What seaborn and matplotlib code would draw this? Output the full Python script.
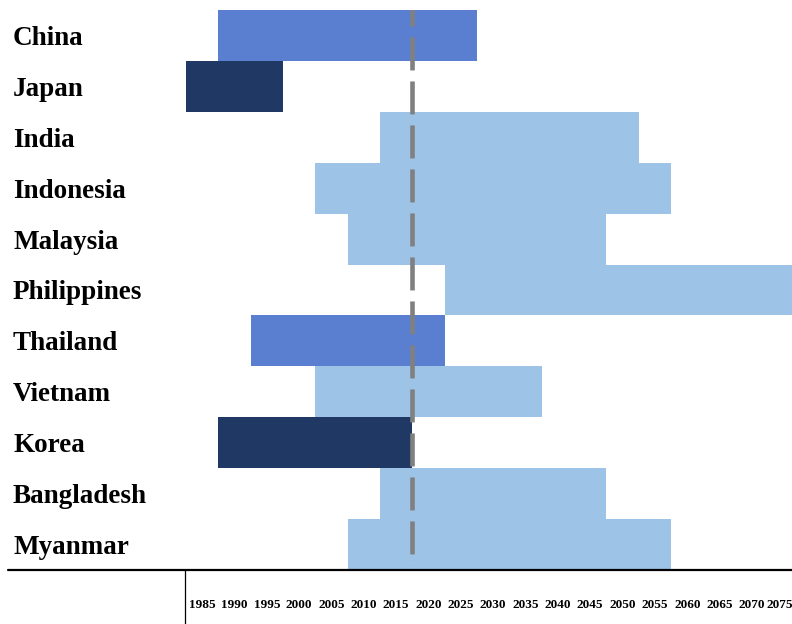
import matplotlib
matplotlib.use("Agg")
import matplotlib.pyplot as plt
from matplotlib.lines import Line2D
import matplotlib.transforms as mtransforms
import seaborn as sns
import pandas as pd

countries = ["China", "Japan", "India", "Indonesia", "Malaysia", "Philippines",
             "Thailand", "Vietnam", "Korea", "Bangladesh", "Myanmar"]
start_year = [1990, 1985, 2015, 2005, 2010, 2025, 1995, 2005, 1990, 2015, 2010]
end_year = [2030, 2000, 2055, 2060, 2050, 2080, 2025, 2040, 2020, 2050, 2060]
group = ["mid", "dark", "light", "light", "light", "light", "mid", "light", "dark", "light", "light"]
tick_years = list(range(1985, 2080, 5))
marker_year = 2020

palette = {"dark": "#203864", "mid": "#5A7FD0", "light": "#9DC3E6"}

df = pd.DataFrame({"country": countries, "start": start_year, "end": end_year, "group": group})

sns.set_theme(style="white")
plt.rcParams["font.family"] = ["Liberation Serif", "DejaVu Serif"]

W, H = 792, 624
x0 = 186
fig = plt.figure(figsize=(W / 100, H / 100), dpi=100)
ax = fig.add_axes([x0 / W, (H - 570) / H, (W - x0) / W, 560 / H])

sns.barplot(data=df, x="end", y="country", hue="group", palette=palette, dodge=False,
            width=1.0, linewidth=0, legend=False, saturation=1, ax=ax, orient="y")
sns.barplot(data=df, x="start", y="country", color="white", saturation=1,
            width=1.0, linewidth=0, ax=ax, orient="y")

ax.set_xlim(1985, 1985 + (W - x0) / 6.468)
ax.set_ylim(10.5, -0.5)

# dashed reference line
lw = 3.3
ax.plot([marker_year, marker_year], [-0.52, 10.4], color="#808080", lw=lw,
        linestyle=(3.5, (7.2, 2.4)), solid_capstyle="butt", zorder=5)

ax.set_xlabel("")
ax.set_ylabel("")
ax.set_xticks([y + 2.5 for y in tick_years])
ax.set_xticklabels([str(y) for y in tick_years], fontsize=9.5, fontweight="bold",
                   family=["Liberation Serif"])
ax.tick_params(axis="x", length=0, pad=21)
ax.tick_params(axis="y", length=0, pad=(x0 - 13) * 0.72)
for lab in ax.get_yticklabels():
    lab.set_horizontalalignment("left")
    lab.set_fontsize(19.5)
    lab.set_fontweight("bold")
    lab.set_color("black")
xl = ax.get_xticklabels()
for lab in xl:
    lab.set_color("black")
# keep the last year label inside the figure
last = xl[-1]
last.set_transform(last.get_transform() + mtransforms.ScaledTranslation(-5 / 100, 0, fig.dpi_scale_trans))

for s in ax.spines.values():
    s.set_visible(False)

# table-like axis lines
fig.add_artist(Line2D([8 / W, 1.0], [(H - 570) / H, (H - 570) / H], color="black", lw=1.6,
                      transform=fig.transFigure))
fig.add_artist(Line2D([185 / W, 185 / W], [0, (H - 570) / H], color="black", lw=0.9,
                      transform=fig.transFigure))

fig.savefig("out.png", dpi=100)
